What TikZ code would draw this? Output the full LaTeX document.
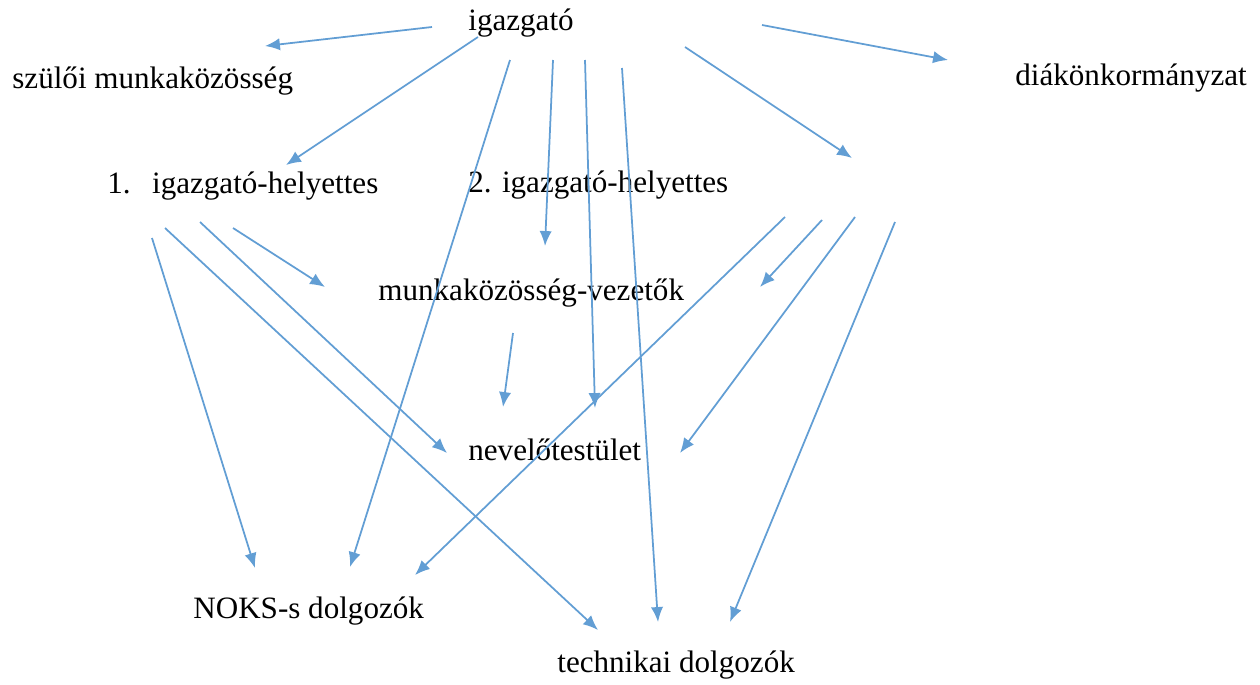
\documentclass[tikz,border=0pt]{standalone}
\usepackage{fontspec}
\setmainfont{Liberation Serif}
\usepackage{tikz}
\usetikzlibrary{arrows.meta}
\definecolor{kek}{RGB}{98,158,212}

\begin{document}
\begin{tikzpicture}[x=0.02cm,y=-0.02cm,
    cim/.style={anchor=base west,inner sep=0pt,font=\fontsize{17.7}{20}\selectfont},
    nyil/.style={draw=kek,line width=1pt,-{Latex[length=8.5pt,width=7pt]}}]
  % Sizes
  \useasboundingbox (0,0) rectangle (1260,684);

  % labels
  \node[cim] (ig)   at (468,30)  {igazgató};
  \node[cim] (szm)  at (12,88)   {szülői munkaközösség};
  \node[cim] (dok)  at (1015,85) {diákönkormányzat};
  \node[cim] (ih1)  at (107,193) {1.\hspace{0.69em}igazgató-helyettes};
  \node[cim] (ih2)  at (468,192) {2. igazgató-helyettes};
  \node[cim] (mkv)  at (378,300) {munkaközösség-vezetők};
  \node[cim] (nt)   at (468,460) {nevelőtestület};
  \node[cim] (noks) at (193,618) {NOKS-s dolgozók};
  \node[cim] (tech) at (557,672) {technikai dolgozók};

  % arrow ends: igazgato
  \coordinate (i1) at (432,27);  \coordinate (i1t) at (265,46);
  \coordinate (i2) at (478,37);  \coordinate (i2t) at (286,165);
  \coordinate (i3) at (510,60);  \coordinate (i3t) at (350,567);
  \coordinate (i4) at (553,60);  \coordinate (i4t) at (545,246);
  \coordinate (i5) at (585,60);  \coordinate (i5t) at (595,408);
  \coordinate (i6) at (622,68);  \coordinate (i6t) at (658,622);
  \coordinate (i7) at (685,47);  \coordinate (i7t) at (852,158);
  \coordinate (i8) at (762,25);  \coordinate (i8t) at (948,60);
  % arrow ends: 1. helyettes
  \coordinate (h1) at (152,238); \coordinate (h1t) at (255,568);
  \coordinate (h2) at (165,228); \coordinate (h2t) at (598,630);
  \coordinate (h3) at (200,222); \coordinate (h3t) at (447,453);
  \coordinate (h4) at (233,228); \coordinate (h4t) at (325,287);
  % arrow ends: munkakozosseg-vezetok
  \coordinate (m1) at (513,333); \coordinate (m1t) at (503,407);
  % arrow ends: 2. helyettes
  \coordinate (k1) at (785,217); \coordinate (k1t) at (415,575);
  \coordinate (k2) at (822,220); \coordinate (k2t) at (760,287);
  \coordinate (k3) at (855,217); \coordinate (k3t) at (680,453);
  \coordinate (k4) at (895,222); \coordinate (k4t) at (730,622);

  % draw diagram
  \draw[nyil] (i1) -- (i1t);
  \draw[nyil] (i2) -- (i2t);
  \draw[nyil] (i3) -- (i3t);
  \draw[nyil] (i4) -- (i4t);
  \draw[nyil] (i5) -- (i5t);
  \draw[nyil] (i6) -- (i6t);
  \draw[nyil] (i7) -- (i7t);
  \draw[nyil] (i8) -- (i8t);

  \draw[nyil] (h1) -- (h1t);
  \draw[nyil] (h2) -- (h2t);
  \draw[nyil] (h3) -- (h3t);
  \draw[nyil] (h4) -- (h4t);

  \draw[nyil] (m1) -- (m1t);

  \draw[nyil] (k1) -- (k1t);
  \draw[nyil] (k2) -- (k2t);
  \draw[nyil] (k3) -- (k3t);
  \draw[nyil] (k4) -- (k4t);
\end{tikzpicture}
\end{document}
